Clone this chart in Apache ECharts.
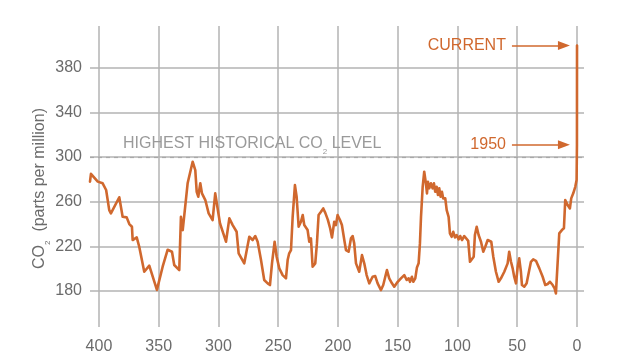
<!DOCTYPE html>
<html>
<head>
<meta charset="utf-8">
<script src="https://cdn.jsdelivr.net/npm/echarts@6/dist/echarts.min.js"></script>
<style>html,body{margin:0;padding:0;background:#fff}#c{width:638px;height:363px}</style>
</head>
<body>
<div id="c"></div>
<script>
// Thousands of years before 1950 (negative = after 1950)
const kyrBP = [
  407.5, 406.7, 401, 396.9, 394, 391.4, 390, 383, 380.2, 376.8, 374.6, 372.4, 371.8, 368.4, 366.3, 362.1, 357.9, 351.5, 346.7,
  342.5, 341.2, 338.9, 337, 332.8, 331.4, 329.9, 328.6, 325.8, 321.6, 319.4, 318.2, 316.9, 315.2, 313.8, 311, 308.2, 306.8,
  304.9, 302.7, 300.7, 298.7, 293.7, 290.9, 288.1, 284.8, 283.1, 278.4, 274.2,
  271.4, 269.2, 267.2, 264.4, 261.7, 258.8, 256.9, 255.2, 254.1, 253, 251.3, 249.1, 246.3, 243.5, 242.1, 240.8, 239.3,
  237.9, 236, 234.6, 232.9, 231, 229.5, 228.2, 225.4, 224, 222.6, 221.2, 219, 217.6, 216.2, 214.2, 212.3, 210.6,
  208.5, 206.5, 205, 203.1, 201.7, 200.3, 198.3, 196.7, 194.7, 193.3, 191.1, 189.1, 187.7, 186.4, 184.9, 182.2, 179.9,
  178, 176, 173.8, 171, 168.8, 166.8, 164, 162.1, 160.4, 159, 157.1, 154.8, 152.9, 150, 147.3, 144.5, 142.5, 140.8,
  139.7, 138.1, 137, 135.3, 133.9, 132.5, 131.4, 130.5, 129.1, 127.8, 126.4, 125.5, 124.7, 123.6, 122.2, 120.8, 119.7,
  118.6, 117.4, 116.3, 115.2, 114.1, 113, 111.9, 110.2, 109, 107.4, 106.3, 104.9, 103.5, 102.1, 100.7, 99, 97.7, 96.2,
  94.3, 92.9, 91, 89.5, 88.1, 86.4, 85.4, 83.9, 82.3, 80.3, 78.4, 76.7, 74.7, 73.9, 71.7, 70, 67.8, 65.5, 63.6, 60.8,
  58, 56.7, 55.2, 53.8, 52.5, 51, 49.6, 48.3, 46.9, 46, 44.1, 42.1, 39.9, 38.5, 36.6, 34.3, 31.5, 28.7, 26.5, 24.5,
  22.6, 20.3, 18.7, 17.6, 16.2, 14.8, 12.6, 10.9, 9.8, 7.8, 5.9, 4.8, 3.1, 1.4, 0.3, 0, -0.06
];
// CO2 concentration, parts per million
const co2 = [
  278, 285, 278, 276.5, 270.5, 252.5, 249.6, 264, 246.5, 246, 240, 237.6, 225.7, 228, 219.7, 197.3, 202.7, 181, 201.8,
  217, 218.2, 215.2, 203.3, 198.8, 246.5, 234.6, 236.2, 276.5, 295.8, 288.4, 268.9, 264.5, 276.5, 267.5, 261.5, 249.6, 251,
  243.6, 267.5, 254, 240.6, 224.2, 245.1, 239.1, 233.1, 213.8, 204.8, 228.6,
  225.7, 229.3, 224.2, 207.8, 189.9, 186.9, 185.4, 204.8, 203.3, 224.2, 210.7, 200.3, 194.3, 191.4, 207.8, 213.8, 216.7,
  246.5, 274.9, 264.5, 237.6, 242.1, 248.1, 239.1, 234.6, 224.2, 227.2, 201.8, 204.8, 222.7, 248.1, 251, 254, 250,
  244, 236, 228, 242.1, 239.1, 248.1, 243.6, 239.1, 225.7, 216.7, 215.2, 227.2, 229.3, 222.7, 204.8, 197.3, 212.2,
  204.8, 194.3, 186.9, 192.8, 193.4, 186.9, 180.9, 185.4, 192.8, 198.8, 191.4, 186.9, 183.9, 188.3, 191.4, 194.3, 189.9, 191.4,
  188.3, 192.8, 188.3, 191.4, 201.2, 204.8, 222.7, 246.5, 273.4, 286.9, 276.5, 267.5, 277.9, 272, 276.5, 272, 276.5,
  268.9, 273.4, 266, 272, 264.5, 268.9, 263, 263, 252.5, 246.5, 231.7, 228.6, 233.1, 228, 230.2, 226.3, 229.3, 225.7,
  229.3, 228, 225, 206.2, 204.8, 210.7, 230.2, 237.6, 230.2, 224.2, 215.2, 219.7, 225.7, 227.2, 224.2, 210.7, 197.3, 188.3, 191.4, 197.3,
  204.8, 215.2, 206.2, 200.3, 192.8, 186.9, 201.8, 209.3, 197.3, 185.4, 183.9, 186.9, 198.8, 206.2, 208.4, 207.1, 200.3, 192.8, 185.4, 186.3,
  188.3, 185.4, 182.4, 177.9, 204.8, 231.7, 234.6, 236.2, 261.5, 257, 254, 263, 267.5, 273.4, 279.4, 311, 400
];
const xTicks = [0, 50, 100, 150, 200, 250, 300, 350, 400];
const yTicks = [180, 220, 260, 300, 340, 380];
const highestHistoricalLevel = 300;
const annotationNames = ['CURRENT', '1950'];

// layout / style
const X_MIN = -5.9, X_MAX = 407.5, Y_MIN = 147.8, Y_MAX = 417.4;
const ARROW_FROM = 54.4, ARROW_TO = 10.9;
const FONT = '"Liberation Sans", Arial, Helvetica, sans-serif';
const ORANGE = '#D0682E';
const GRIDC = '#b3b3b3';
const LABELC = '#6b6b6b';

const data = kyrBP.map((k, i) => [k, co2[i]]);
const currentValue = co2[co2.length - 1];
const value1950 = co2[kyrBP.indexOf(0)];
const annotationValues = [currentValue, value1950];

const arrowLines = annotationNames.map((n, i) => [
  { name: n, coord: [ARROW_FROM, annotationValues[i]], symbol: 'none',
    label: { show: true, position: 'start', formatter: '{b}', color: ORANGE, fontSize: 16, fontFamily: FONT, distance: 6 } },
  { coord: [ARROW_TO, annotationValues[i]], symbol: 'triangle', symbolSize: [9, 12] }
]);

const chart = echarts.init(document.getElementById('c'), null, { renderer: 'canvas' });
chart.setOption({
  animation: false,
  backgroundColor: '#fff',
  grid: { left: 90, right: 54, top: 26, bottom: 36, containLabel: false, outerBoundsMode: 'none' },
  xAxis: {
    type: 'value', inverse: true, min: X_MIN, max: X_MAX,
    axisLine: { show: false },
    axisTick: { show: false, customValues: xTicks },
    axisLabel: { customValues: xTicks, color: LABELC, fontSize: 16, fontFamily: FONT, margin: 12 },
    splitLine: { show: true, lineStyle: { color: GRIDC, width: 1.5 } }
  },
  yAxis: {
    type: 'value', min: Y_MIN, max: Y_MAX,
    axisLine: { show: false },
    axisTick: { show: false, customValues: yTicks },
    axisLabel: { customValues: yTicks, color: LABELC, fontSize: 16, fontFamily: FONT, margin: 8 },
    splitLine: { show: true, lineStyle: { color: GRIDC, width: 1.5 } },
    name: '{a|CO}{s|2}{a|  (parts per million)}',
    nameLocation: 'middle', nameGap: 38, nameRotate: 90, nameMoveOverlap: false,
    nameTextStyle: {
      color: LABELC, fontSize: 16, fontFamily: FONT, padding: [0, 24, 0, 0],
      rich: {
        a: { color: LABELC, fontSize: 16, fontFamily: FONT, lineHeight: 24 },
        s: { color: LABELC, fontSize: 8, fontFamily: FONT, lineHeight: 24, verticalAlign: 'bottom' }
      }
    }
  },
  series: [{
    type: 'line',
    data: data,
    showSymbol: false,
    symbol: 'none',
    z: 5,
    lineStyle: { color: ORANGE, width: 2.6, join: 'round', cap: 'round' },
    markLine: {
      silent: true,
      animation: false,
      symbol: ['none', 'none'],
      lineStyle: { color: ORANGE, width: 1.5, type: 'solid' },
      emphasis: { disabled: true },
      data: [
        [
          { coord: [X_MAX, highestHistoricalLevel],
            lineStyle: { color: '#a8a8a8', width: 1.2, type: [4, 4] },
            label: {
              show: true, position: 'insideStartTop', distance: [33, 1],
              formatter: '{a|HIGHEST HISTORICAL CO}{s|2}{a| LEVEL}',
              rich: {
                a: { color: '#9a9a9a', fontSize: 16, fontFamily: FONT, lineHeight: 24 },
                s: { color: '#9a9a9a', fontSize: 8, fontFamily: FONT, lineHeight: 24, verticalAlign: 'bottom' }
              }
            } },
          { coord: [X_MIN, highestHistoricalLevel] }
        ]
      ].concat(arrowLines)
    }
  }]
});
</script>
</body>
</html>
